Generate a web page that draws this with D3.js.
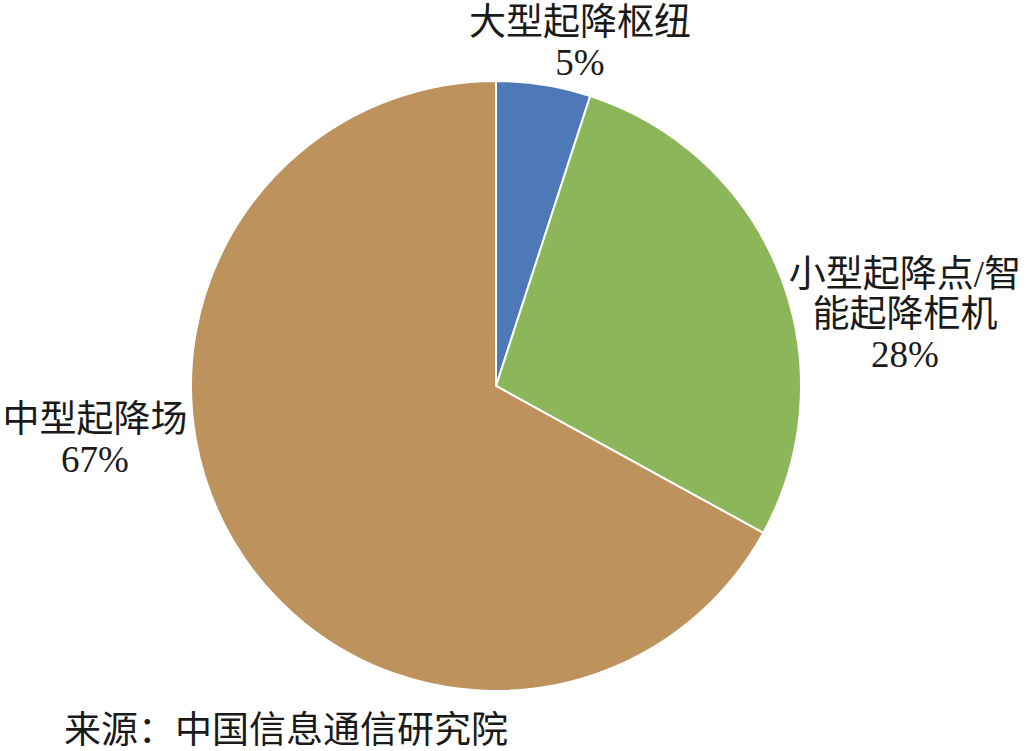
<!DOCTYPE html>
<html lang="zh">
<head>
  <meta charset="UTF-8">
  <title>起降设施占比</title>
  <script src="https://d3js.org/d3.v7.min.js"></script>
  <style>
    body { margin: 0; background: #fff; }
    text { font-family: "Liberation Serif", "Noto Sans CJK SC", serif; fill: #1a1a1a; }
  </style>
</head>
<body>
<script>
  // 数据
  const categories = ["大型起降枢纽", "小型起降点/智能起降柜机", "中型起降场"];
  const shares = [5, 28, 67];
  const colors = ["#4e79b8", "#8bb65a", "#bd925c"];
  // 标签分行
  const labelLines = [["大型起降枢纽", "5%"], ["小型起降点/智", "能起降柜机", "28%"], ["中型起降场", "67%"]];
  const source = "来源：中国信息通信研究院";

  const width = 1026, height = 751;
  const cx = 496, cy = 386, r = 305;

  const svg = d3.select("body").append("svg")
    .attr("width", width)
    .attr("height", height);

  const g = svg.append("g").attr("transform", `translate(${cx}, ${cy})`);

  const pie = d3.pie().sort(null).value(d => d);
  const arcs = pie(shares);
  const arc = d3.arc().innerRadius(0).outerRadius(r);

  g.selectAll("path.slice")
    .data(arcs)
    .enter()
    .append("path")
    .attr("class", "slice")
    .attr("d", arc)
    .style("fill", (d, i) => colors[i])
    .style("stroke", "#fff")
    .style("stroke-width", 2);

  // 标签位置（相对圆心）
  const labelPos = [
    { x: 84, y: -351 },
    { x: 409, y: -99 },
    { x: -401, y: 46 }
  ];
  const lineH = 40;

  arcs.forEach((d, i) => {
    const p = labelPos[i];
    const t = g.append("text")
      .attr("x", p.x)
      .attr("y", p.y)
      .style("text-anchor", "middle")
      .style("font-size", "37px");
    labelLines[i].forEach((s, k) => {
      t.append("tspan")
        .attr("x", p.x)
        .attr("dy", k === 0 ? 0 : lineH)
        .text(s);
    });
  });

  svg.append("text")
    .attr("x", 64)
    .attr("y", 743)
    .style("font-size", "37px")
    .text(source);
</script>
</body>
</html>
